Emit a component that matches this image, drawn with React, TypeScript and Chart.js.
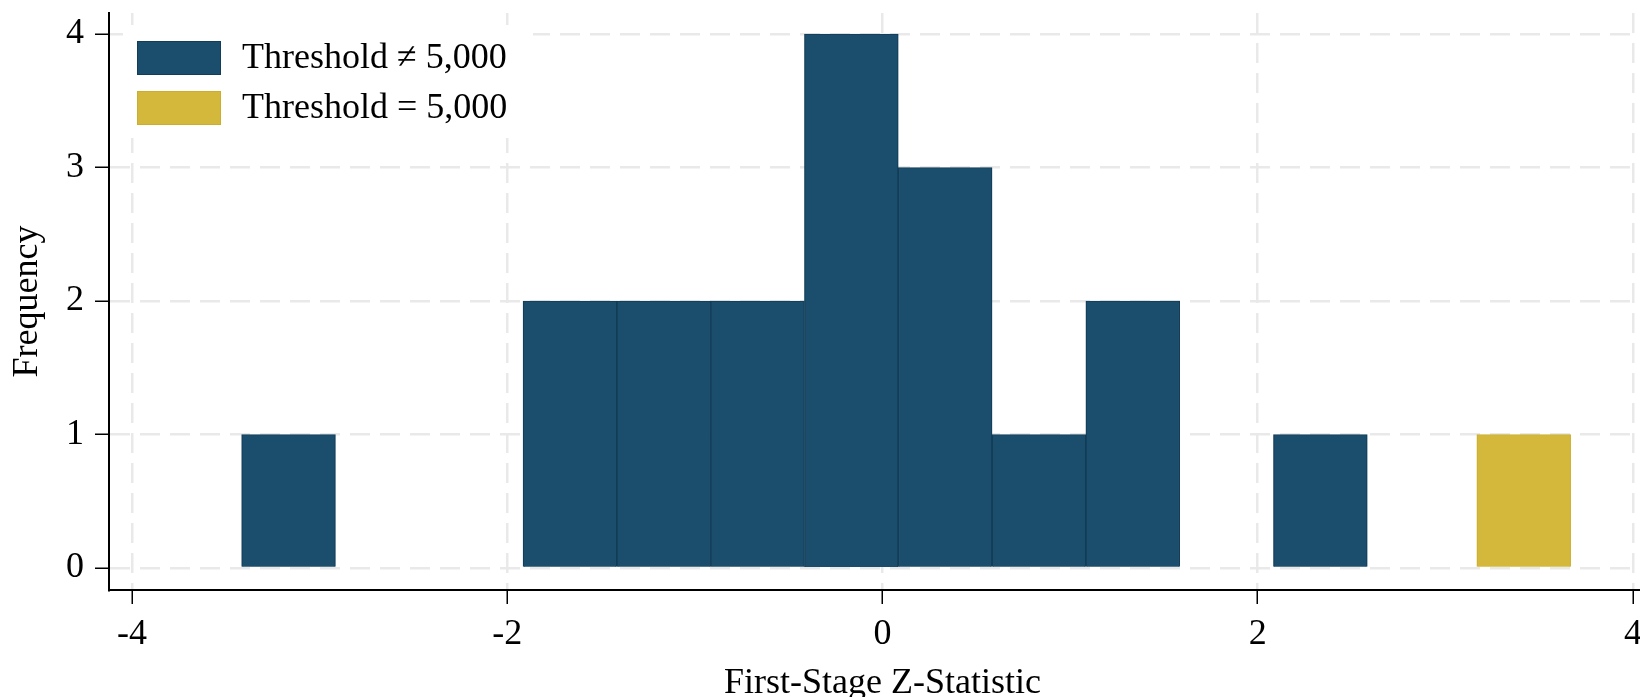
import { useEffect, useRef } from "react";
import { Chart, registerables } from "chart.js";

Chart.register(...registerables);

// histogram bins (left edge, width 0.5)
const binWidth = 0.5;
const otherStarts = [-3.416, -1.916, -1.416, -0.916, -0.416, 0.084, 0.584, 1.084, 2.084];
const otherCounts = [1, 2, 2, 2, 4, 3, 1, 2, 1];
const fiveKStarts = [3.168];
const fiveKCounts = [1];

const xTicks = [-4, -2, 0, 2, 4];
const yTicks = [0, 1, 2, 3, 4];

const labels = ["Threshold \u2260 5,000", "Threshold = 5,000"];

const serif = '"Liberation Serif", "Times New Roman", serif';
const blue = "#1b4e6d";
const gold = "#d4b83b";

const toBars = (starts: number[], counts: number[]) =>
  starts.map((s, i) => ({ x: s + binWidth / 2, y: counts[i] }));

// legend drawn inside the plot, top-left, on a white box
const insetLegend = {
  id: "insetLegend",
  afterDatasetsDraw(chart: any) {
    const { ctx, chartArea } = chart;
    ctx.save();
    ctx.fillStyle = "#fff";
    ctx.fillRect(chartArea.left + 14, chartArea.top + 12, 410, 113);
    chart.data.datasets.forEach((ds: any, i: number) => {
      const x = chartArea.left + 28;
      const y = chartArea.top + 28 + i * 50;
      ctx.fillStyle = ds.backgroundColor;
      ctx.fillRect(x, y, 84, 34);
      ctx.strokeStyle = ds.borderColor;
      ctx.lineWidth = 1;
      ctx.strokeRect(x + 0.5, y + 0.5, 83, 33);
      ctx.fillStyle = "#000";
      ctx.font = `36px ${serif}`;
      ctx.textBaseline = "middle";
      ctx.textAlign = "left";
      ctx.fillText(ds.label, x + 105, y + 18);
    });
    ctx.restore();
  },
};

export default function App() {
  const canvasRef = useRef<HTMLCanvasElement>(null);
  const chartRef = useRef<Chart | null>(null);

  useEffect(() => {
    if (!canvasRef.current) return;
    if (chartRef.current) chartRef.current.destroy();

    const gridOpts = {
      color: "#e9e9e9",
      lineWidth: 2.5,
      offset: false,
      tickColor: "#000",
      tickWidth: 1.5,
      tickLength: 14,
      tickBorderDash: [],
    };

    chartRef.current = new Chart(canvasRef.current, {
      type: "bar",
      data: {
        datasets: [
          {
            label: labels[0],
            data: toBars(otherStarts, otherCounts),
            backgroundColor: blue,
            borderColor: "#113d58",
            borderWidth: 1.2,
          },
          {
            label: labels[1],
            data: toBars(fiveKStarts, fiveKCounts),
            backgroundColor: gold,
            borderColor: "#ccae2c",
            borderWidth: 1.2,
          },
        ],
      },
      options: {
        animation: false,
        responsive: true,
        maintainAspectRatio: false,
        grouped: false,
        barPercentage: 1,
        categoryPercentage: 1,
        layout: { padding: { top: 13, right: 24, left: 0, bottom: 0 } },
        plugins: {
          legend: { display: false },
          tooltip: { enabled: false },
        },
        scales: {
          x: {
            type: "linear",
            offset: false,
            min: -4.123,
            max: 4.123,
            afterBuildTicks: (s: any) => {
              s.ticks = xTicks.map((v) => ({ value: v }));
            },
            afterFit: (s: any) => {
              s.height = 107;
              s.paddingLeft = 0;
              s.paddingRight = 0;
            },
            grid: gridOpts,
            border: { color: "#000", width: 2, dash: [20, 10] },
            ticks: {
              color: "#000",
              padding: 9,
              maxRotation: 0,
              font: { family: serif, size: 36 },
            },
            title: {
              display: true,
              text: "First-Stage Z-Statistic",
              color: "#000",
              padding: { top: 0, bottom: -5 },
              font: { family: serif, size: 36, lineHeight: 1 },
            },
          },
          y: {
            min: -0.165,
            max: 4.157,
            afterBuildTicks: (s: any) => {
              s.ticks = yTicks.map((v) => ({ value: v }));
            },
            afterFit: (s: any) => {
              s.width = 109;
              s.paddingTop = 0;
              s.paddingBottom = 0;
            },
            grid: gridOpts,
            border: { color: "#000", width: 2, dash: [20, 10] },
            ticks: {
              color: "#000",
              padding: 11,
              font: { family: serif, size: 36 },
            },
            title: {
              display: true,
              text: "Frequency",
              color: "#000",
              padding: { top: 10, bottom: 0 },
              font: { family: serif, size: 36, lineHeight: 1 },
            },
          },
        },
      } as any,
      plugins: [insetLegend],
    });

    return () => {
      if (chartRef.current) {
        chartRef.current.destroy();
        chartRef.current = null;
      }
    };
  }, []);

  return (
    <div
      style={{
        position: "absolute",
        left: 0,
        top: 0,
        width: 1640,
        height: 697,
        overflow: "hidden",
        background: "#fff",
      }}
    >
      <div style={{ position: "relative", width: 1680, height: 697 }}>
        <canvas ref={canvasRef} />
      </div>
    </div>
  );
}
